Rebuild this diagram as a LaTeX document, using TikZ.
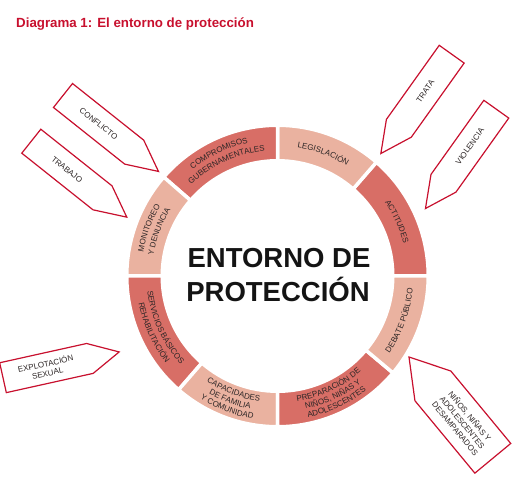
\documentclass[tikz,border=0pt]{standalone}
\usepackage{fontspec}
\setmainfont{Liberation Sans}
\usepackage{tikz}
\usetikzlibrary{decorations.text}
\definecolor{ringdark}{RGB}{216,110,102}
\definecolor{ringlight}{RGB}{234,178,160}
\definecolor{framered}{RGB}{200,16,46}
\definecolor{lbltext}{RGB}{45,38,38}
\newcommand\lblfont{\fontsize{8}{9.5}\selectfont\color{lbltext}}

\begin{document}
\begin{tikzpicture}[x=1pt,y=1pt,
    sector/.style={draw=white,line width=3.5pt},
    pointer/.style={draw=framered,line width=1.2pt,fill=white,line join=miter},
    ptrlabel/.style={text=lbltext,font=\lblfont,align=center,inner sep=1pt},
    ringlabel/.style={decorate,decoration={text along path,text align=center,text={|\lblfont|#1}}}]
  \useasboundingbox (0,0) rectangle (512,480);
  \node [anchor=base west,inner sep=0pt,text=framered,font=\bfseries\fontsize{13.3}{16}\selectfont] (title) at (16,452) {Diagrama 1: El entorno de protección};
  % pointers from outside
  \foreach \n/\x/\y/\a/\f/\l/\w/\t/\txt in {
      conflicto/63/384.5/-38.5/0/91/15.3/31/CONFLICTO,
      trabajo/31.3/338.8/-38.5/0/91/15.3/31/TRABAJO,
      trata/451.7/425.8/234.5/180/91/15.3/31/TRATA,
      violencia/496.3/370.8/234.5/180/91/15.3/31/VIOLENCIA,
      explotacion/3/102.3/12.5/0/89/15.3/30/{EXPLOTACIÓN\\SEXUAL},
      desamparados/492.8/21.7/129.6/180/94/23.3/37.5/{NIÑOS, NIÑAS Y\\ADOLESCENTES\\DESAMPARADOS}} {
    \begin{scope}[shift={(\x,\y)},rotate=\a]
      \draw [pointer] (0,-\w) -- (\l,-\w) -- (\l+\t,0) -- (\l,\w) -- (0,\w) -- cycle;
      \node [ptrlabel,rotate=\a+\f] (\n) at (\l/2,0) {\txt};
    \end{scope}
  }
  \begin{scope}[shift={(277.5,204)}]
    \foreach \a/\b/\c in {0/49/ringdark,49/90/ringlight,90/139/ringdark,139/180/ringlight,
        180/229/ringdark,229/270/ringlight,270/320/ringdark,320/360/ringlight}
      \filldraw [sector,fill=\c] (\a:150.75) arc [start angle=\a,end angle=\b,radius=150.75]
        -- (\b:115.25) arc [start angle=\b,end angle=\a,radius=115.25] -- cycle;
    % upper half, clockwise
    \path [ringlabel={LEGISLACIÓN}] (90:130.1) arc [start angle=90,end angle=49,radius=130.1];
    \path [ringlabel={ACTITUDES}] (49:130.1) arc [start angle=49,end angle=0,radius=130.1];
    \path [ringlabel={COMPROMISOS}] (141:136.3) arc [start angle=141,end angle=90,radius=136.3];
    \path [ringlabel={GUBERNAMENTALES}] (139:125.8) arc [start angle=139,end angle=90,radius=125.8];
    \path [ringlabel={MONITOREO}] (180:136.3) arc [start angle=180,end angle=139,radius=136.3];
    \path [ringlabel={Y DENUNCIA}] (180:125.8) arc [start angle=180,end angle=139,radius=125.8];
    % lower half, counter-clockwise
    \path [ringlabel={SERVICIOS BÁSICOS}] (180:131) arc [start angle=180,end angle=229,radius=131];
    \path [ringlabel={REHABILITACIÓN}] (180:141.5) arc [start angle=180,end angle=229,radius=141.5];
    \path [ringlabel={CAPACIDADES}] (228:126.9) arc [start angle=228,end angle=270,radius=126.9];
    \path [ringlabel={DE FAMILIA}] (228:135.9) arc [start angle=228,end angle=270,radius=135.9];
    \path [ringlabel={Y COMUNIDAD}] (228:144.9) arc [start angle=228,end angle=270,radius=144.9];
    \path [ringlabel={PREPARACIÓN DE}] (270:126.9) arc [start angle=270,end angle=320,radius=126.9];
    \path [ringlabel={NIÑOS{,} NIÑAS Y}] (270:135.9) arc [start angle=270,end angle=320,radius=135.9];
    \path [ringlabel={ADOLESCENTES}] (270:144.9) arc [start angle=270,end angle=320,radius=144.9];
    \path [ringlabel={DEBATE PÚBLICO}] (320:135.9) arc [start angle=320,end angle=360,radius=135.9];
  \end{scope}
  \node [anchor=base,text=black!92,font=\bfseries\fontsize{27.5}{30}\selectfont] (entorno) at (279,212) {ENTORNO DE};
  \node [anchor=base,text=black!92,font=\bfseries\fontsize{27.5}{30}\selectfont] (proteccion) at (278,178) {PROTECCIÓN};
\end{tikzpicture}
\end{document}
